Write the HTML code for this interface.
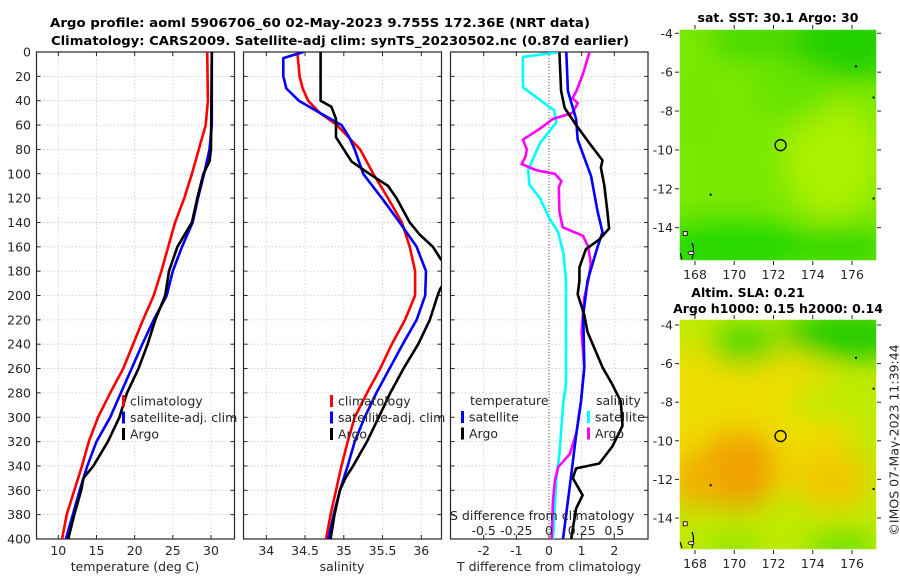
<!DOCTYPE html>
<html><head><meta charset="utf-8">
<style>
html,body{margin:0;padding:0;background:#fff;}
svg{display:block;font-family:"DejaVu Sans","Liberation Sans",sans-serif;}
.tk{font-size:12.5px;fill:#262626;}
.ttl{font-size:12.5px;font-weight:bold;fill:#000;}
</style></head>
<body>
<svg id="fig" width="900" height="580" viewBox="0 0 900 580" xmlns="http://www.w3.org/2000/svg">
<defs>
<filter id="blur8" x="-50%" y="-50%" width="200%" height="200%"><feGaussianBlur stdDeviation="14"/></filter>
<clipPath id="cp1"><rect x="36.5" y="52" width="198" height="487"/></clipPath>
<clipPath id="cp2"><rect x="243.5" y="52" width="198" height="487"/></clipPath>
<clipPath id="cp3"><rect x="450.5" y="52" width="197.5" height="487"/></clipPath>
<clipPath id="cpm1"><rect x="679" y="29" width="198" height="232"/></clipPath>
<clipPath id="cpm2"><rect x="679" y="319" width="198" height="231"/></clipPath>
</defs>
<text class="ttl" x="320" y="27" text-anchor="middle" textLength="540" lengthAdjust="spacingAndGlyphs">Argo profile: aoml 5906706_60 02-May-2023 9.755S 172.36E (NRT data)</text>
<text class="ttl" x="340" y="45" text-anchor="middle" textLength="578" lengthAdjust="spacingAndGlyphs">Climatology: CARS2009. Satellite-adj clim: synTS_20230502.nc (0.87d earlier)</text>
<g id="g1"></g>
<g id="g2"></g>
<g id="g3"></g>
<g id="m1"></g>
<g id="m2"></g>
<text class="tk" transform="translate(895,440) rotate(-90)" text-anchor="middle" dominant-baseline="middle">©IMOS 07-May-2023 11:39:44</text>
</svg>
<script>
// ---------- data ----------
const depthTicks=[0,20,40,60,80,100,120,140,160,180,200,220,240,260,280,300,320,340,360,380,400];
const tTicks=[10,15,20,25,30];
const sTicks=[34,34.5,35,35.5,36];
const sTickLabels=["34","34.5","35","35.5","36"];
const dTicks=[-2,-1,0,1,2];
const sdTicks=[-0.5,-0.25,0,0.25,0.5];
const sdTickLabels=["-0.5","-0.25","0","0.25","0.5"];

const tClimDepth=[0,40,60,80,100,120,140,160,180,200,220,240,260,280,300,320,340,360,380,400];
const tClimVal=[29.5,29.6,29.3,28.4,27.5,26.5,25.3,24.4,23.5,22.5,21.1,19.8,18.5,16.8,15.2,14.0,13.1,12.1,11.1,10.5];
const tSatDepth=[0,60,80,100,120,140,160,180,200,220,240,260,280,300,320,340,360,380,400];
const tSatVal=[30.1,30.1,29.8,29.1,28.3,27.6,26.2,25.0,24.2,22.5,21.0,19.6,18.2,16.8,15.0,13.8,12.8,11.9,11.0];
const tArgoDepth=[0,80,90,100,120,140,160,180,200,220,240,260,280,300,320,340,350,360,380,400];
const tArgoVal=[30.1,30.0,29.8,29.0,28.2,27.5,25.6,24.5,24.0,22.7,21.7,20.5,19.0,18.0,16.5,14.6,13.3,13.0,12.1,11.3];

const sClimDepth=[0,20,30,40,50,60,80,100,120,140,160,180,200,220,240,260,280,300,320,340,360,380,400];
const sClimVal=[34.40,34.43,34.47,34.54,34.69,34.91,35.21,35.38,35.57,35.75,35.85,35.92,35.92,35.79,35.62,35.47,35.30,35.14,35.05,34.97,34.90,34.83,34.77];
const sSatDepth=[0,5,20,30,40,50,60,70,80,100,120,140,160,180,200,220,240,260,280,300,320,340,360,380,400];
const sSatVal=[34.48,34.22,34.22,34.26,34.42,34.69,34.97,35.07,35.14,35.25,35.49,35.72,35.94,36.06,36.05,35.94,35.76,35.59,35.42,35.27,35.14,35.05,34.95,34.87,34.80];
const sArgoDepth=[0,40,45,55,70,75,90,100,110,120,140,150,160,170,180,195,200,220,240,260,280,300,320,340,350,360,380,400];
const sArgoVal=[34.70,34.70,34.84,34.90,34.90,34.95,35.10,35.33,35.57,35.68,35.85,35.98,36.15,36.25,36.40,36.24,36.21,36.11,35.96,35.77,35.60,35.45,35.30,35.12,35.02,34.95,34.88,34.83];

const dTSatDepth=[0,32,55,72,102,131,148,160,188,216,259,287,315,358,400];
const dTSatVal=[0.53,0.58,0.83,0.88,1.29,1.49,1.64,1.49,1.18,1.05,1.08,0.98,0.83,0.63,0.43];
const dTArgoDepth=[0,32,46,60,75,89,95,109,131,145,154,162,177,188,199,216,230,259,273,287,307,324,338,342,350,364,375,400];
const dTArgoVal=[0.32,0.37,0.48,0.83,1.24,1.64,1.59,1.69,1.79,1.84,1.54,1.13,0.93,0.93,0.88,1.08,1.18,1.64,1.94,2.2,2.25,1.94,1.54,0.83,0.73,1.03,0.83,0.68];
const dSSatDepth=[0,4,29,48,58,75,97,109,120,137,148,165,188,273,287,330,352,386,400];
const dSSatVal=[0.09,-0.2,-0.2,0.04,0.055,-0.07,-0.16,-0.15,-0.07,0.005,0.07,0.11,0.13,0.13,0.11,0.08,0.055,0.04,0.03];
const dSArgoDepth=[0,18,32,38,42,50,55,63,72,80,86,92,97,100,106,111,131,144,151,160,174,188,202,230,259,287,313,330,341,352,369,400];
const dSArgoVal=[0.31,0.26,0.21,0.18,0.22,0.18,0.03,-0.07,-0.2,-0.17,-0.18,-0.21,-0.1,0.045,0.095,0.075,0.08,0.105,0.26,0.3,0.32,0.3,0.27,0.25,0.27,0.245,0.21,0.16,0.07,0.045,0.03,0.02];

const lonTicks=[168,170,172,174,176];
const latTicks=[-4,-6,-8,-10,-12,-14];
const argoLon=[172.36];
const argoLat=[-9.755];

// ---------- helpers ----------
const NS="http://www.w3.org/2000/svg";
function mk(tag,attrs,parent,txt){const e=document.createElementNS(NS,tag);for(const k in attrs)e.setAttribute(k,attrs[k]);if(txt!==undefined)e.textContent=txt;parent.appendChild(e);return e;}
const Y0=52,Y1=539;
const yD=d=>Y0+(d/400)*(Y1-Y0);
function lin(d0,d1,r0,r1){return v=>r0+(v-d0)/(d1-d0)*(r1-r0);}

function panel(g,x0,x1,xs,ticks,labels,showY,clip){
  // grid
  ticks.forEach((t,i)=>{const x=xs(t);
    const gl=mk('line',{x1:x,x2:x,y1:Y0,y2:Y1,stroke:'#d8c8d8','stroke-width':0.8,'stroke-dasharray':'1.5,2'},g);
    
    
    mk('line',{x1:x,x2:x,y1:Y1,y2:Y1-4,stroke:'#262626'},g);
    mk('line',{x1:x,x2:x,y1:Y0,y2:Y0+4,stroke:'#262626'},g);
    if(labels){const tl=mk('text',{x:x,y:555,class:'tk','text-anchor':'middle'},g,labels[i]);
      
      }
  });
  depthTicks.forEach(d=>{const y=yD(d);
    mk('line',{x1:x0,x2:x1,y1:y,y2:y,stroke:'#c8c8e8','stroke-width':0.8,'stroke-dasharray':'1.5,2'},g);
    mk('line',{x1:x0,x2:x0+4,y1:y,y2:y,stroke:'#262626'},g);
    mk('line',{x1:x1,x2:x1-4,y1:y,y2:y,stroke:'#262626'},g);
    if(showY){const tl=mk('text',{x:31,y:y+4.5,class:'tk','text-anchor':'end'},g,String(d));
      
      }
  });
  mk('rect',{x:x0,y:Y0,width:x1-x0,height:Y1-Y0,fill:'none',stroke:'#262626','stroke-width':1.2},g);
}
function line(g,depths,vals,xs,color,name,clip,w){
  const pts=depths.map((d,i)=>xs(vals[i]).toFixed(1)+','+yD(d).toFixed(1)).join(' ');
  const p=mk('polyline',{points:pts,fill:'none',stroke:color,'stroke-width':w||2.6,'stroke-linejoin':'round','clip-path':'url(#'+clip+')'},g);
  
  
}
function legend(g,x,y0,items){
  items.forEach((it,i)=>{const y=y0+i*16.5;
    mk('rect',{x:x,y:y-6,width:3,height:12,fill:it[1]},g);
    const t=mk('text',{x:x+8,y:y+4.5,class:'tk','font-size':'13px'},g,it[0]);
    
    
  });
}

// ---------- panel 1 ----------
const g1=document.getElementById('g1');
const xT=lin(10,30,58.3,211);
panel(g1,36.5,234.5,xT,tTicks,tTicks.map(String),true,'cp1');
line(g1,tClimDepth,tClimVal,xT,'#ff0000','temperature-climatology-line','cp1');
line(g1,tSatDepth,tSatVal,xT,'#0000ff','temperature-satellite-line','cp1');
line(g1,tArgoDepth,tArgoVal,xT,'#000000','temperature-argo-line','cp1');
legend(g1,122,401,[['climatology','#ff0000'],['satellite-adj. clim','#0000ff'],['Argo','#000']]);
const xl1=mk('text',{x:135,y:571,class:'tk','text-anchor':'middle','font-size':'13px'},g1,'temperature (deg C)');



// ---------- panel 2 ----------
const g2=document.getElementById('g2');
const xS=lin(34,36,266.3,421.3);
panel(g2,243.5,441.5,xS,sTicks,sTickLabels,false,'cp2');
line(g2,sClimDepth,sClimVal,xS,'#ff0000','salinity-climatology-line','cp2');
line(g2,sSatDepth,sSatVal,xS,'#0000ff','salinity-satellite-line','cp2');
line(g2,sArgoDepth,sArgoVal,xS,'#000000','salinity-argo-line','cp2');
legend(g2,330,401,[['climatology','#ff0000'],['satellite-adj. clim','#0000ff'],['Argo','#000']]);
const xl2=mk('text',{x:342,y:571,class:'tk','text-anchor':'middle','font-size':'13px'},g2,'salinity');



// ---------- panel 3 ----------
const g3=document.getElementById('g3');
const xD=lin(0,2,549,614.3);
const xSD=v=>xD(v*4);
panel(g3,450.5,648,xD,dTicks,dTicks.map(String),false,'cp3');
mk('line',{x1:xD(0),x2:xD(0),y1:Y0,y2:Y1,stroke:'#555','stroke-width':1,'stroke-dasharray':'1,2'},g3);
line(g3,dSSatDepth,dSSatVal,xSD,'#00ffff','salinity-diff-satellite-line','cp3');
line(g3,dSArgoDepth,dSArgoVal,xSD,'#ff00ff','salinity-diff-argo-line','cp3');
line(g3,dTSatDepth,dTSatVal,xD,'#0000ff','temperature-diff-satellite-line','cp3');
line(g3,dTArgoDepth,dTArgoVal,xD,'#000000','temperature-diff-argo-line','cp3');
const lt=mk('text',{x:470,y:405,class:'tk','font-size':'13px'},g3,'temperature');


const ls=mk('text',{x:596,y:405,class:'tk','font-size':'13px'},g3,'salinity');


legend(g3,461,417,[['satellite','#0000ff'],['Argo','#000']]);
legend(g3,587,417,[['satellite','#00ffff'],['Argo','#ff00ff']]);
const sdt=mk('text',{x:450,y:520,class:'tk','font-size':'13px'},g3,'S difference from climatology');


sdTicks.forEach((v,i)=>{const t=mk('text',{x:xSD(v),y:535,class:'tk','text-anchor':'middle'},g3,sdTickLabels[i]);
  
  });
const xl3=mk('text',{x:549,y:571,class:'tk','text-anchor':'middle','font-size':'13px'},g3,'T difference from climatology');



// ---------- maps ----------
function map(g,y0,y1,latTop,latTick14,clip,blobs,base,title){
  const x0=679,x1=877;
  const lonX=lin(168,176,695,852);
  const latY=lin(-4,-14,latTop,latTick14);
  mk('rect',{x:x0,y:y0,width:x1-x0,height:y1-y0,fill:base},g);
  const bg=mk('g',{'clip-path':'url(#'+clip+')'},g);
  const bb=mk('g',{filter:'url(#blur8)'},bg);
  blobs.forEach(b=>mk('ellipse',{cx:lonX(b[0]),cy:latY(b[1]),rx:b[2],ry:b[3],fill:b[4]},bb));
  // coast bits
  mk('path',{d:`M${x0+1} ${y1-8} l2 6 M${lonX(168)-3} ${y1-18} q3 6 0 16`,stroke:'#000',fill:'none','stroke-width':1.2},bg);
  mk('rect',{x:lonX(167.5)-2,y:latY(-14.3)-2,width:4,height:4,fill:'#fdd',stroke:'#000','stroke-width':0.8},bg);
  mk('ellipse',{cx:lonX(167.8),cy:latY(-15.3),rx:3,ry:1.5,fill:'#fdd',stroke:'#000','stroke-width':0.8},bg);
  [[176.2,-5.7],[177.1,-7.3],[168.8,-12.3],[177.1,-12.5]].forEach(p=>mk('rect',{x:lonX(p[0])-1,y:latY(p[1])-1,width:2,height:2,fill:'#000'},bg));
  const c=mk('circle',{cx:lonX(argoLon[0]),cy:latY(argoLat[0]),r:5.5,fill:'none',stroke:'#000','stroke-width':1.3},g);
  
  
  mk('rect',{x:x0,y:y0,width:x1-x0,height:y1-y0,fill:'none',stroke:'#fff','stroke-width':1.5},g);
  lonTicks.forEach(l=>{const x=lonX(l);
    mk('line',{x1:x,x2:x,y1:y1,y2:y1+4,stroke:'#262626'},g);
    mk('line',{x1:x,x2:x,y1:y0,y2:y0-4,stroke:'#262626'},g);
    const t=mk('text',{x:x,y:y1+18,class:'tk','text-anchor':'middle'},g,String(l));
    
    });
  latTicks.forEach(l=>{const y=latY(l);
    mk('line',{x1:x0-4,x2:x0,y1:y,y2:y,stroke:'#262626'},g);
    mk('line',{x1:x1,x2:x1+4,y1:y,y2:y,stroke:'#262626'},g);
    const t=mk('text',{x:673,y:y+4.5,class:'tk','text-anchor':'end'},g,String(l));
    
    });
  title.forEach(tt=>{const t=mk('text',{x:tt[0],y:tt[1],class:'ttl','text-anchor':'middle'},g,tt[2]);
    
    });
}
map(document.getElementById('m1'),29,261,33.3,227.7,'cpm1',[
  [176,-4.5,70,35,'#22d000'],[171,-4.3,45,20,'#44d800'],[175,-10.5,50,60,'#aaf000'],[170,-15,90,25,'#22d800'],
  [175.5,-15,50,20,'#33d800'],[168,-8,25,40,'#77e600'],[173,-7,40,30,'#66e400']
],'#7ae800',[[778,22,'sat. SST: 30.1 Argo: 30']]);
map(document.getElementById('m2'),319,550,325,518,'cpm2',[
  [170,-9,120,80,'#eedd00'],[170.2,-11.5,40,40,'#f0a000'],[168,-12,25,30,'#f2b000'],[175,-12,40,30,'#f0c800'],
  [176,-4.5,70,25,'#20cc00'],[170.5,-5,35,20,'#44d800'],[175,-8,45,15,'#b8ec00'],[175.5,-15.5,35,15,'#66e000'],[170,-15.5,30,12,'#88e400']
],'#c0ea00',[[748,297,'Altim. SLA: 0.21'],[778,313,'Argo h1000: 0.15 h2000: 0.14']]);
</script>
</body></html>
